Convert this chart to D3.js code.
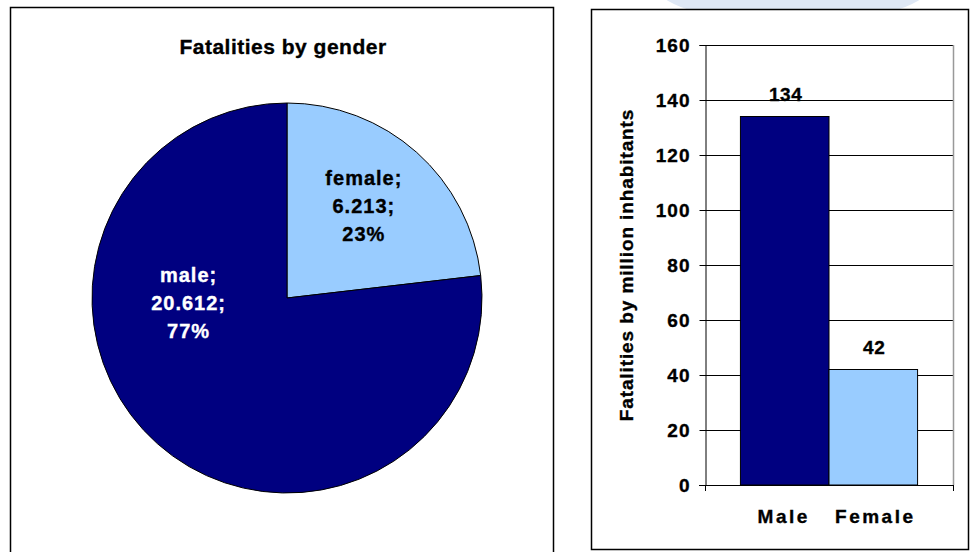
<!DOCTYPE html>
<html>
<head>
<meta charset="utf-8">
<script src="https://cdn.jsdelivr.net/npm/d3@7"></script>
<style>
  html, body { margin: 0; padding: 0; background: #fff; }
  svg { display: block; font-family: Arial, "Liberation Sans", sans-serif; font-weight: bold; }
  svg text { stroke-width: 0.35px; }
</style>
</head>
<body>
<svg id="chart" width="970" height="552"></svg>
<script>
// Fatalities by gender (absolute counts)
const pieTitle = "Fatalities by gender";
const pieCategories = ["female", "male"];
const pieValues = [6213, 20612];

// Fatalities per million inhabitants
const barCategories = ["Male", "Female"];
const barValues = [134, 42];
const barTicks = [0, 20, 40, 60, 80, 100, 120, 140, 160];
const barAxisTitle = "Fatalities by million inhabitants";

const colors = { female: "#99CCFF", male: "#000080", Male: "#000080", Female: "#99CCFF" };

const svg = d3.select("#chart");

// faint decorative shape peeking above the right panel
svg.append("ellipse")
  .attr("cx", 793).attr("cy", -12).attr("rx", 135).attr("ry", 34)
  .attr("fill", "#dfe8f5");

// ---------- left panel: pie ----------
svg.append("rect")
  .attr("x", 10.5).attr("y", 7.5).attr("width", 543).attr("height", 560)
  .attr("fill", "#fff").attr("stroke", "#000").attr("stroke-width", 1.5);

svg.append("text")
  .attr("x", 283).attr("y", 54)
  .attr("text-anchor", "middle")
  .attr("fill", "#000").attr("stroke", "#000")
  .style("font-size", "21px").style("letter-spacing", "0.5px")
  .text(pieTitle);

const pieCx = 287, pieCy = 298, pieR = 195;
const pieData = pieCategories.map((c, i) => ({ cat: c, value: pieValues[i] }));
const total = d3.sum(pieValues);
const arcs = d3.pie().sort(null).value(d => d.value)(pieData);
const arcGen = d3.arc().innerRadius(0).outerRadius(pieR);

const pieG = svg.append("g").attr("transform", `translate(${pieCx},${pieCy})`);
pieG.selectAll("path.slice").data(arcs).join("path")
  .attr("class", "slice")
  .attr("d", arcGen)
  .attr("fill", d => colors[d.data.cat])
  .attr("stroke", "#000").attr("stroke-width", 1);

// European number format: 20.612
const eu = d3.formatLocale({ decimal: ",", thousands: ".", grouping: [3], currency: ["", "€"] });
const fmtCount = eu.format(",d");

// label placement: radius fraction and angle (degrees, clockwise from 12 o'clock)
const labelPolar = { female: [0.625, 38.5], male: [0.51, 269] };
arcs.forEach(a => {
  const [rf, deg] = labelPolar[a.data.cat];
  const ang = deg * Math.PI / 180;
  const lx = Math.sin(ang) * rf * pieR;
  const ly = -Math.cos(ang) * rf * pieR;
  const lines = [a.data.cat + ";", fmtCount(a.data.value) + ";", Math.round(a.data.value / total * 100) + "%"];
  const col = a.data.cat === "male" ? "#fff" : "#000";
  const t = pieG.append("text")
    .attr("text-anchor", "middle")
    .attr("fill", col).attr("stroke", col)
    .style("font-size", "20px").style("letter-spacing", "1px");
  lines.forEach((ln, i) => {
    t.append("tspan")
      .attr("x", lx + 1)
      .attr("y", ly + 10 + (i - 1) * 28)
      .text(ln);
  });
});

// ---------- right panel: bars ----------
svg.append("rect")
  .attr("x", 591.5).attr("y", 9.5).attr("width", 377).attr("height", 540)
  .attr("fill", "#fff").attr("stroke", "#000").attr("stroke-width", 1.5);

const plot = { left: 705, right: 953, top: 45, bottom: 485 };
const y = d3.scaleLinear().domain([0, 160]).range([plot.bottom, plot.top]);
const x = d3.scaleBand().domain(barCategories).range([plot.left, plot.right])
  .paddingInner(0).paddingOuter(0.4);

const barG = svg.append("g");

// gridlines
barG.selectAll("line.grid").data(barTicks).join("line")
  .attr("class", "grid")
  .attr("x1", plot.left).attr("x2", plot.right)
  .attr("y1", d => Math.round(y(d)) + 0.5).attr("y2", d => Math.round(y(d)) + 0.5)
  .attr("stroke", "#000").attr("stroke-width", 1);

// plot area right border
barG.append("line")
  .attr("x1", plot.right + 0.5).attr("x2", plot.right + 0.5)
  .attr("y1", plot.top).attr("y2", plot.bottom)
  .attr("stroke", "#999").attr("stroke-width", 1.5);

// bars
barG.selectAll("rect.bar").data(barCategories).join("rect")
  .attr("class", "bar")
  .attr("x", d => x(d))
  .attr("y", (d, i) => y(barValues[i]))
  .attr("width", x.bandwidth())
  .attr("height", (d, i) => y(0) - y(barValues[i]))
  .attr("fill", d => colors[d])
  .attr("stroke", "#000").attr("stroke-width", 1);

// value labels
barG.selectAll("text.val").data(barCategories).join("text")
  .attr("class", "val")
  .attr("x", d => x(d) + x.bandwidth() / 2 + 1)
  .attr("y", (d, i) => y(barValues[i]) - 16)
  .attr("text-anchor", "middle")
  .attr("fill", "#000").attr("stroke", "#000")
  .style("font-size", "19px").style("letter-spacing", "0.6px")
  .text((d, i) => barValues[i]);

// y axis
const yAxis = d3.axisLeft(y).tickValues(barTicks).tickSize(6).tickPadding(9).tickFormat(d3.format("d"));
const yG = barG.append("g").attr("transform", `translate(${plot.left + 0.5},0)`).call(yAxis);
yG.select(".domain").attr("stroke", "#000");
yG.selectAll(".tick line").attr("stroke", "#000");
yG.selectAll(".tick text")
  .attr("fill", "#000").attr("stroke", "#000")
  .style("font-family", "Arial, 'Liberation Sans', sans-serif")
  .style("font-weight", "bold")
  .style("font-size", "19px").style("letter-spacing", "1px");

// x axis: baseline with end ticks
barG.append("line")
  .attr("x1", plot.left - 6).attr("x2", plot.right + 1)
  .attr("y1", y(0) + 0.5).attr("y2", y(0) + 0.5)
  .attr("stroke", "#000");
[plot.left + 0.5, plot.right + 0.5].forEach(px => {
  barG.append("line")
    .attr("x1", px).attr("x2", px)
    .attr("y1", y(0)).attr("y2", y(0) + 6)
    .attr("stroke", "#000");
});

barG.selectAll("text.cat").data(barCategories).join("text")
  .attr("class", "cat")
  .attr("x", (d, i) => x(d) + x.bandwidth() / 2 + (i === 0 ? -1 : 2))
  .attr("y", 523)
  .attr("text-anchor", "middle")
  .attr("fill", "#000").attr("stroke", "#000")
  .style("font-size", "19px").style("letter-spacing", "2.5px")
  .text(d => d);

// y axis title
svg.append("text")
  .attr("transform", `translate(633,265) rotate(-90)`)
  .attr("text-anchor", "middle")
  .attr("fill", "#000").attr("stroke", "#000")
  .style("font-size", "19px").style("letter-spacing", "0.9px")
  .text(barAxisTitle);
</script>
</body>
</html>
